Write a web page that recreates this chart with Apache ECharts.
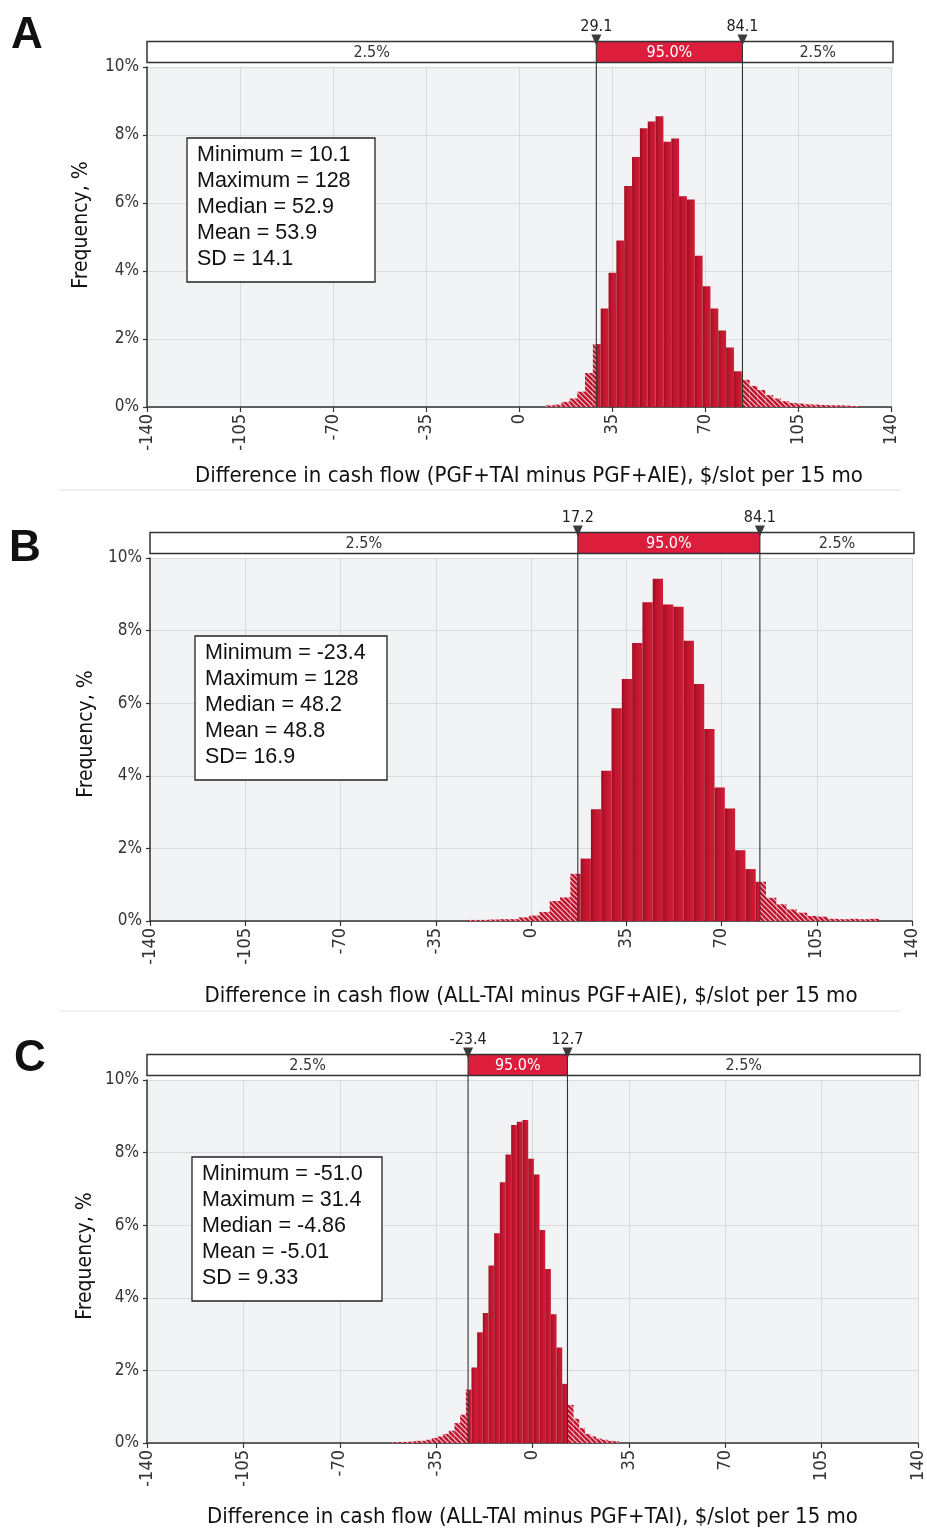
<!DOCTYPE html>
<html><head><meta charset="utf-8">
<script src="https://cdn.jsdelivr.net/npm/echarts/dist/echarts.min.js"></script>
<style>html,body{margin:0;padding:0;background:#fff;}#c{width:927px;height:1529px;}</style>
</head><body><div id="c"></div>
<script>
// ---------------- DATA ----------------
const xTicks = [-140, -105, -70, -35, 0, 35, 70, 105, 140];
const yTicks = [0, 2, 4, 6, 8, 10];
const panelLetters = ['A', 'B', 'C'];
const axisTitles = [
  'Difference in cash flow (PGF+TAI minus PGF+AIE), $/slot per 15 mo',
  'Difference in cash flow (ALL-TAI minus PGF+AIE), $/slot per 15 mo',
  'Difference in cash flow (ALL-TAI minus PGF+TAI), $/slot per 15 mo'
];
const yTitle = 'Frequency, %';
const bandLabels = ['2.5%', '95.0%', '2.5%'];

const statsA = ['Minimum = 10.1', 'Maximum = 128', 'Median = 52.9', 'Mean = 53.9', 'SD = 14.1'];
const statsB = ['Minimum = -23.4', 'Maximum = 128', 'Median = 48.2', 'Mean = 48.8', 'SD= 16.9'];
const statsC = ['Minimum = -51.0', 'Maximum = 31.4', 'Median = -4.86', 'Mean = -5.01', 'SD = 9.33'];

const intervalA = [29.1, 84.1];
const intervalB = [17.2, 84.1];
const intervalC = [-23.4, 12.7];

const binStartA = 10.1, binWidthA = 2.95;
const freqA = [0.05, 0.07, 0.15, 0.25, 0.45, 1.0, 1.85, 2.9, 3.95, 4.9,
  6.5, 7.35, 8.2, 8.4, 8.55, 7.8, 7.9, 6.2, 6.1, 4.45,
  3.55, 2.9, 2.25, 1.75, 1.05, 0.8, 0.62, 0.5, 0.35, 0.25,
  0.17, 0.12, 0.1, 0.08, 0.07, 0.06, 0.05, 0.05, 0.04, 0.03];

const binStartB = -23.4, binWidthB = 3.785;
const freqB = [0.03, 0.03, 0.04, 0.05, 0.05, 0.1, 0.15, 0.25, 0.55, 0.65,
  1.3, 1.72, 3.08, 4.14, 5.86, 6.67, 7.66, 8.78, 9.43, 8.72,
  8.66, 7.72, 6.53, 5.29, 3.68, 3.1, 1.95, 1.43, 1.08, 0.64,
  0.46, 0.32, 0.23, 0.14, 0.12, 0.06, 0.05, 0.06, 0.05, 0.06];

const binStartC = -51.0, binWidthC = 2.06;
const freqC = [0.02, 0.03, 0.03, 0.04, 0.06, 0.06, 0.09, 0.14, 0.18, 0.25,
  0.34, 0.55, 0.78, 1.47, 2.08, 3.05, 3.58, 4.89, 5.78, 7.18,
  7.95, 8.76, 8.85, 8.9, 7.83, 7.4, 5.87, 4.79, 3.55, 2.63,
  1.63, 1.05, 0.67, 0.41, 0.25, 0.18, 0.12, 0.09, 0.06, 0.05];

// ---------------- LAYOUT ----------------
const FONT = "'DejaVu Sans Condensed', 'Liberation Sans Narrow', 'DejaVu Sans', sans-serif";
const ARIAL = "'Liberation Sans', Arial, sans-serif";
const layout = [
  { left: 147, top: 67, width: 744, height: 340, xGap: 58, xPad: [0, 0, 0, 20], yTitle: [82, 225], box: [187, 138, 188, 144], letter: [11, 14], sep: 490 },
  { left: 150, top: 558, width: 762, height: 363, xGap: 64, xPad: 0, yTitle: [87, 734], box: [195, 636, 192, 144], letter: [9, 527], sep: 1011 },
  { left: 147, top: 1080, width: 774, height: 364, xGap: 63, xPad: 0, yTitle: [86, 1256], box: [192, 1157, 190, 144], letter: [14, 1037], sep: null }
];

const panels = [
  { stats: statsA, interval: intervalA, start: binStartA, width: binWidthA, freq: freqA },
  { stats: statsB, interval: intervalB, start: binStartB, width: binWidthB, freq: freqB },
  { stats: statsC, interval: intervalC, start: binStartC, width: binWidthC, freq: freqC }
];

function makeHatch() {
  const c = document.createElement('canvas');
  c.width = 5; c.height = 5;
  const g = c.getContext('2d');
  g.fillStyle = '#bd142d'; g.fillRect(0, 0, 5, 5);
  g.strokeStyle = 'rgba(255,205,212,0.95)'; g.lineWidth = 1.2;
  g.beginPath();
  g.moveTo(0, 0); g.lineTo(5, 5);
  g.moveTo(-1, 4); g.lineTo(1, 6);
  g.moveTo(4, -1); g.lineTo(6, 1);
  g.stroke();
  return c;
}
const hatchFill = { image: makeHatch(), repeat: 'repeat' };
const solidFill = new echarts.graphic.LinearGradient(0, 0, 1, 0, [
  { offset: 0, color: '#980e22' }, { offset: 0.35, color: '#bf142d' }, { offset: 1, color: '#d01e37' }
]);

function histRender(lo, hi) {
  return function (params, api) {
    const x0 = api.value(0), x1 = api.value(1), f = api.value(2);
    const yTop = api.coord([x0, f])[1], yBase = api.coord([x0, 0])[1];
    const parts = [[x0, Math.min(x1, lo), true], [Math.max(x0, lo), Math.min(x1, hi), false], [Math.max(x0, hi), x1, true]];
    const children = [];
    parts.forEach(([a, b, h]) => {
      if (b <= a) return;
      const pa = api.coord([a, 0])[0], pb = api.coord([b, 0])[0];
      children.push({ type: 'rect', shape: { x: pa, y: yTop, width: pb - pa, height: yBase - yTop },
        style: { fill: h ? hatchFill : solidFill } });
    });
    return { type: 'group', children };
  };
}

function bandRender(params, api) {
  const lo = api.value(0), hi = api.value(1);
  const L = api.coord([xTicks[0], 0])[0];
  const R = api.coord([xTicks[xTicks.length - 1], 0])[0] + 2;
  const base = api.coord([0, 0])[1];
  const top = api.coord([0, yTicks[yTicks.length - 1]])[1];
  const pl = api.coord([lo, 0])[0], ph = api.coord([hi, 0])[0];
  const bt = top - 25.5, bh = 21, bm = bt + bh / 2 + 0.5;
  const tf = '16px ' + FONT;
  return {
    type: 'group', children: [
      { type: 'rect', shape: { x: L, y: bt, width: R - L, height: bh }, style: { fill: '#fff', stroke: null } },
      { type: 'rect', shape: { x: pl, y: bt, width: ph - pl, height: bh }, style: { fill: '#dc1d3c' } },
      { type: 'rect', shape: { x: L, y: bt, width: R - L, height: bh }, style: { fill: null, stroke: '#333', lineWidth: 1.5 } },
      { type: 'line', shape: { x1: pl, y1: bt, x2: pl, y2: base }, style: { stroke: '#333', lineWidth: 1.1 } },
      { type: 'line', shape: { x1: ph, y1: bt, x2: ph, y2: base }, style: { stroke: '#333', lineWidth: 1.1 } },
      { type: 'text', x: (L + pl) / 2, y: bm, style: { text: bandLabels[0], font: tf, fill: '#333', align: 'center', verticalAlign: 'middle' } },
      { type: 'text', x: (pl + ph) / 2, y: bm, style: { text: bandLabels[1], font: tf, fill: '#fff', align: 'center', verticalAlign: 'middle' } },
      { type: 'text', x: (ph + R) / 2, y: bm, style: { text: bandLabels[2], font: tf, fill: '#333', align: 'center', verticalAlign: 'middle' } },
      { type: 'polygon', shape: { points: [[pl - 5, bt - 7], [pl + 5, bt - 7], [pl, bt + 4]] }, style: { fill: '#3b3b3b' } },
      { type: 'polygon', shape: { points: [[ph - 5, bt - 7], [ph + 5, bt - 7], [ph, bt + 4]] }, style: { fill: '#3b3b3b' } },
      { type: 'text', x: pl, y: bt - 7, style: { text: String(lo), font: tf, fill: '#222', align: 'center', verticalAlign: 'bottom' } },
      { type: 'text', x: ph, y: bt - 7, style: { text: String(hi), font: tf, fill: '#222', align: 'center', verticalAlign: 'bottom' } }
    ]
  };
}

const grid = [], xAxis = [], yAxis = [], series = [], graphic = [];
panels.forEach((p, i) => {
  const l = layout[i];
  grid.push({ left: l.left, top: l.top, width: l.width, height: l.height, show: true,
    backgroundColor: '#f1f3f5', borderWidth: 0 });
  xAxis.push({ gridIndex: i, type: 'value', min: xTicks[0], max: xTicks[xTicks.length - 1], interval: 35,
    name: axisTitles[i], nameLocation: 'middle', nameGap: l.xGap,
    nameTextStyle: { fontFamily: FONT, fontSize: 22, color: '#111', padding: l.xPad },
    axisLine: { show: true, onZero: false, lineStyle: { color: '#333', width: 1.5 } },
    axisTick: { show: true, length: 5, lineStyle: { color: '#333', width: 1.2 } },
    axisLabel: { rotate: 90, fontFamily: FONT, fontSize: 18, color: '#333', margin: 7 },
    splitLine: { show: true, lineStyle: { color: '#d8dbde', width: 1 } } });
  yAxis.push({ gridIndex: i, type: 'value', min: yTicks[0], max: yTicks[yTicks.length - 1], interval: 2,
    axisLine: { show: true, onZero: false, lineStyle: { color: '#333', width: 1.5 } },
    axisTick: { show: true, length: 4, lineStyle: { color: '#333', width: 1.2 } },
    axisLabel: { fontFamily: FONT, fontSize: 17, color: '#333', margin: 8, formatter: '{value}%' },
    splitLine: { show: true, lineStyle: { color: '#d8dbde', width: 1 } } });
  const data = p.freq.map((f, k) => [p.start + k * p.width, p.start + (k + 1) * p.width, f]);
  series.push({ type: 'custom', xAxisIndex: i, yAxisIndex: i, z: 2, clip: false,
    dimensions: ['x0', 'x1', 'f'], encode: { x: [0, 1], y: 2 },
    renderItem: histRender(p.interval[0], p.interval[1]), data });
  series.push({ type: 'custom', xAxisIndex: i, yAxisIndex: i, z: 5, clip: false, silent: true,
    dimensions: ['lo', 'hi'], encode: { x: [0, 1] },
    renderItem: bandRender, data: [p.interval] });
  graphic.push({ type: 'text', left: l.letter[0], top: l.letter[1], z: 100,
    style: { text: panelLetters[i], font: 'bold 44px ' + ARIAL, fill: '#111' } });
  graphic.push({ type: 'text', x: l.yTitle[0], y: l.yTitle[1], rotation: Math.PI / 2, z: 100,
    style: { text: yTitle, font: '21px ' + FONT, fill: '#111', align: 'center', verticalAlign: 'middle' } });
  graphic.push({ type: 'rect', z: 100, shape: { x: l.box[0], y: l.box[1], width: l.box[2], height: l.box[3] },
    style: { fill: '#fff', stroke: '#222', lineWidth: 1.3 } });
  graphic.push({ type: 'text', z: 101, x: l.box[0] + 10, y: l.box[1] + 4,
    style: { text: p.stats.join('\n'), font: '21.5px ' + ARIAL, lineHeight: 26, fill: '#111' } });
  if (l.sep) graphic.push({ type: 'line', z: 100, shape: { x1: 60, y1: l.sep, x2: 900, y2: l.sep }, style: { stroke: '#e2e2e2', lineWidth: 1 } });
});

const chart = echarts.init(document.getElementById('c'), null, { renderer: 'canvas' });
chart.setOption({ animation: false, backgroundColor: '#fff', grid, xAxis, yAxis, series, graphic });
</script></body></html>
